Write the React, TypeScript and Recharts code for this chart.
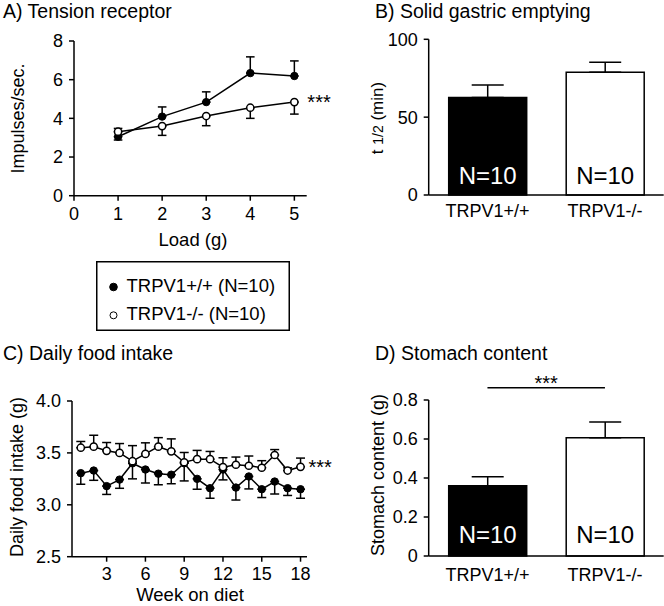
import React from 'react';
import {
  LineChart, Line, BarChart, Bar, XAxis, YAxis, ErrorBar, Cell, LabelList,
  ReferenceLine, ReferenceDot, Legend,
} from 'recharts';

const FONT = '"Liberation Sans", Arial, Helvetica, sans-serif';

// ---------- Panel A: Tension receptor ----------
const loads = [1, 2, 3, 4, 5];
const tensionWT = [3.05, 4.09, 4.84, 6.34, 6.19];
const tensionWTErr = [0.43, 0.5, 0.53, 0.84, 0.78];
const tensionKO = [3.31, 3.6, 4.12, 4.55, 4.84];
const tensionKOErr = [0.43, 0.48, 0.5, 0.55, 0.62];
const loadTicks = [0, 1, 2, 3, 4, 5];
const impulseTicks = [0, 2, 4, 6, 8];

// ---------- Panel B: Solid gastric emptying ----------
const groups = ['TRPV1+/+', 'TRPV1-/-'];
const groupN = ['N=10', 'N=10'];
const emptyingHalf = [62.7, 78.8];
const emptyingErr = [7.9, 6.4];
const emptyingTicks = [0, 50, 100];

// ---------- Panel C: Daily food intake ----------
const weeks = [1, 2, 3, 4, 5, 6, 7, 8, 9, 10, 11, 12, 13, 14, 15, 16, 17, 18];
const intakeWT = [3.305, 3.33, 3.18, 3.243, 3.40, 3.34, 3.30, 3.29, 3.40, 3.25, 3.16, 3.34, 3.166, 3.273, 3.15, 3.224, 3.16, 3.15];
const intakeWTErr = [0.107, 0.094, 0.08, 0.084, 0.15, 0.13, 0.107, 0.087, 0.17, 0.1, 0.097, 0.1, 0.12, 0.12, 0.08, 0.12, 0.07, 0.087];
const intakeKO = [3.55, 3.56, 3.52, 3.50, 3.42, 3.49, 3.56, 3.515, 3.41, 3.44, 3.44, 3.363, 3.386, 3.376, 3.357, 3.48, 3.33, 3.366];
const intakeKOErr = [0.06, 0.11, 0.08, 0.09, 0.15, 0.107, 0.087, 0.12, 0.094, 0.084, 0.074, 0.09, 0.074, 0.094, 0.068, 0.052, 0.026, 0.084];
const weekTicks = [3, 6, 9, 12, 15, 18];
const intakeTicks = [2.5, 3.0, 3.5, 4.0];

// ---------- Panel D: Stomach content ----------
const stomach = [0.36, 0.607];
const stomachErr = [0.047, 0.08];
const stomachTicks = [0, 0.2, 0.4, 0.6, 0.8];
const stomachSigLevel = 0.863;

const seriesNames = ['TRPV1+/+ (N=10)', 'TRPV1-/- (N=10)'];
const titles = ['A) Tension receptor', 'B) Solid gastric emptying', 'C) Daily food intake', 'D) Stomach content'];
const significance = '***';

// ---------- derived tables ----------
const tensionData = loads.map((l, i) => ({
  load: l,
  wt: tensionWT[i],
  wtErr: [0, tensionWTErr[i]],
  ko: tensionKO[i],
  koErr: [tensionKOErr[i], 0],
}));

const intakeData = weeks.map((w, i) => ({
  week: w,
  wt: intakeWT[i],
  wtErr: [intakeWTErr[i], 0],
  ko: intakeKO[i],
  koErr: [0, intakeKOErr[i]],
}));

const emptyingData = groups.map((g, i) => ({ group: g, value: emptyingHalf[i], err: [0, emptyingErr[i]], n: groupN[i] }));
const stomachData = groups.map((g, i) => ({ group: g, value: stomach[i], err: [0, stomachErr[i]], n: groupN[i] }));

const axisStyle = { stroke: '#000', strokeWidth: 1.5 };
const tickStyle = { fill: '#000', fontSize: 18, fontFamily: FONT };

const yLabel = (text: React.ReactNode, cx: number, cy: number, fontSize = 18) => () => (
  <text
    x={cx}
    y={cy}
    dy="0.35em"
    transform={`rotate(-90 ${cx} ${cy})`}
    textAnchor="middle"
    fontSize={fontSize}
    fontFamily={FONT}
    fill="#000"
  >
    {text}
  </text>
);

const xLabel = (text: string, cx: number, baseline: number) => () => (
  <text x={cx} y={baseline} textAnchor="middle" fontSize={18.5} fontFamily={FONT} fill="#000">
    {text}
  </text>
);

const dotFilled = { r: 3.7, fill: '#000', stroke: '#000', strokeWidth: 1 };
const dotOpen = { r: 3.6, fill: '#fff', stroke: '#000', strokeWidth: 1.5 };

const renderLegend = (props: any) => {
  const payload = props.payload || [];
  return (
    <svg width={194} height={70} style={{ display: 'block' }}>
      <rect x={0.75} y={0.75} width={192.5} height={68.5} fill="#fff" stroke="#000" strokeWidth={1.5} />
      {payload.map((entry: any, i: number) => (
        <g key={i}>
          <circle
            cx={17.5}
            cy={26 + i * 28.3}
            r={i === 0 ? 3.8 : 3.5}
            fill={i === 0 ? '#000' : '#fff'}
            stroke="#000"
            strokeWidth={1}
          />
          <text x={30.5} y={31 + i * 28.3} fontSize={18.5} fontFamily={FONT} fill="#000">
            {entry.value}
          </text>
        </g>
      ))}
    </svg>
  );
};

const nLabel = (gap: number) => (props: any) => {
  const { x, y, width, height, value, index } = props;
  return (
    <text
      x={x + width / 2}
      y={y + height - gap}
      textAnchor="middle"
      fontSize={24}
      fontFamily={FONT}
      fill={index === 0 ? '#fff' : '#000'}
    >
      {value}
    </text>
  );
};

const pos = (left: number, top: number): React.CSSProperties => ({ position: 'absolute', left, top });

export default function App() {
  return (
    <div style={{ position: 'absolute', left: 0, top: 0, width: 664, height: 606, background: '#fff', overflow: 'hidden' }}>
      <svg width={664} height={606} style={{ position: 'absolute', left: 0, top: 0 }}>
        <text x={3} y={18} fontSize={19.5} fontFamily={FONT} fill="#000">{titles[0]}</text>
        <text x={375} y={18} fontSize={19.5} fontFamily={FONT} fill="#000">{titles[1]}</text>
        <text x={3} y={360} fontSize={19.5} fontFamily={FONT} fill="#000">{titles[2]}</text>
        <text x={375} y={360} fontSize={19.5} fontFamily={FONT} fill="#000">{titles[3]}</text>
      </svg>

      {/* Panel A */}
      <div style={pos(0, 0)}>
        <LineChart width={340} height={335} data={tensionData} margin={{ top: 41, right: 33.3, bottom: 109.3, left: 0 }}>
          <XAxis
            dataKey="load"
            type="number"
            domain={[0, 5.28]}
            ticks={loadTicks}
            interval={0}
            height={30}
            axisLine={axisStyle}
            tickLine={axisStyle}
            tickSize={5}
            tickMargin={7}
            tick={tickStyle}
            label={xLabel('Load (g)', 193, 246)}
          />
          <YAxis
            type="number"
            domain={[0, 8]}
            ticks={impulseTicks}
            interval={0}
            width={74}
            axisLine={axisStyle}
            tickLine={axisStyle}
            tickSize={5}
            tickMargin={6}
            tick={tickStyle}
            label={yLabel('Impulses/sec.', 18, 118.4)}
          />
          <Line
            dataKey="wt"
            name={seriesNames[0]}
            type="linear"
            stroke="#000"
            strokeWidth={1.5}
            dot={dotFilled}
            activeDot={false}
            isAnimationActive={false}
          >
            <ErrorBar dataKey="wtErr" direction="y" width={4.3} stroke="#000" strokeWidth={1.5} />
          </Line>
          <Line
            dataKey="ko"
            name={seriesNames[1]}
            type="linear"
            stroke="#000"
            strokeWidth={1.5}
            dot={dotOpen}
            activeDot={false}
            isAnimationActive={false}
          >
            <ErrorBar dataKey="koErr" direction="y" width={4.3} stroke="#000" strokeWidth={1.5} />
          </Line>
          <ReferenceDot
            x={loads[4]}
            y={tensionKO[4]}
            r={1}
            fill="none"
            stroke="none"
            label={{ value: significance, position: 'right', offset: 12, fill: '#000', fontSize: 20, fontFamily: FONT }}
          />
          <Legend
            layout="vertical"
            align="center"
            verticalAlign="middle"
            content={renderLegend}
            wrapperStyle={{ left: 96, top: 261, width: 194, height: 70 }}
          />
        </LineChart>
      </div>

      {/* Panel B */}
      <div style={pos(332, 0)}>
        <BarChart width={332} height={255} data={emptyingData} margin={{ top: 39.3, right: 0.3, bottom: 30, left: 0 }}>
          <XAxis
            dataKey="group"
            height={30}
            axisLine={axisStyle}
            tickLine={false}
            tickSize={5}
            tickMargin={4}
            tick={tickStyle}
            interval={0}
          />
          <YAxis
            type="number"
            domain={[0, 100]}
            ticks={emptyingTicks}
            interval={0}
            width={96.7}
            axisLine={axisStyle}
            tickLine={axisStyle}
            tickSize={5}
            tickMargin={6}
            tick={tickStyle}
            label={yLabel(
              <>
                <tspan>t </tspan>
                <tspan fontSize={14}>1/2</tspan>
                <tspan> (min)</tspan>
              </>,
              45.5,
              118,
              17,
            )}
          />
          <Bar dataKey="value" barSize={78} stroke="#000" strokeWidth={1.5} isAnimationActive={false}>
            {emptyingData.map((d, i) => (
              <Cell key={d.group} fill={i === 0 ? '#000' : '#fff'} />
            ))}
            <ErrorBar dataKey="err" direction="y" width={16} stroke="#000" strokeWidth={1.5} />
            <LabelList dataKey="n" content={nLabel(11)} />
          </Bar>
        </BarChart>
      </div>

      {/* Panel C */}
      <div style={pos(0, 380)}>
        <LineChart width={340} height={226} data={intakeData} margin={{ top: 21, right: 33, bottom: 19.3, left: 0 }}>
          <XAxis
            dataKey="week"
            type="number"
            domain={[0.32, 18.5]}
            ticks={weekTicks}
            interval={0}
            height={30}
            axisLine={axisStyle}
            tickLine={axisStyle}
            tickSize={5}
            tickMargin={6}
            tick={tickStyle}
            label={xLabel('Week on diet', 190, 221)}
          />
          <YAxis
            type="number"
            domain={[2.5, 4.0]}
            ticks={intakeTicks}
            interval={0}
            width={72}
            axisLine={axisStyle}
            tickLine={axisStyle}
            tickSize={5}
            tickMargin={6}
            tick={tickStyle}
            tickFormatter={(v: number) => v.toFixed(1)}
            label={yLabel('Daily food intake (g)', 17, 97)}
          />
          <Line
            dataKey="wt"
            name={seriesNames[0]}
            type="linear"
            stroke="#000"
            strokeWidth={1.5}
            dot={dotFilled}
            activeDot={false}
            isAnimationActive={false}
          >
            <ErrorBar dataKey="wtErr" direction="y" width={4.5} stroke="#000" strokeWidth={1.5} />
          </Line>
          <Line
            dataKey="ko"
            name={seriesNames[1]}
            type="linear"
            stroke="#000"
            strokeWidth={1.5}
            dot={dotOpen}
            activeDot={false}
            isAnimationActive={false}
          >
            <ErrorBar dataKey="koErr" direction="y" width={4.5} stroke="#000" strokeWidth={1.5} />
          </Line>
          <ReferenceDot
            x={weeks[17]}
            y={intakeKO[17]}
            r={1}
            fill="none"
            stroke="none"
            label={{ value: significance, position: 'right', offset: 7, fill: '#000', fontSize: 20, fontFamily: FONT }}
          />
        </LineChart>
      </div>

      {/* Panel D */}
      <div style={pos(332, 370)}>
        <BarChart width={332} height={236} data={stomachData} margin={{ top: 30, right: 0.3, bottom: 20, left: 0 }}>
          <XAxis
            dataKey="group"
            height={30}
            axisLine={axisStyle}
            tickLine={false}
            tickSize={5}
            tickMargin={7}
            tick={tickStyle}
            interval={0}
          />
          <YAxis
            type="number"
            domain={[0, 0.8]}
            ticks={stomachTicks}
            interval={0}
            width={96.7}
            axisLine={axisStyle}
            tickLine={axisStyle}
            tickSize={5}
            tickMargin={6}
            tick={tickStyle}
            label={yLabel('Stomach content (g)', 45.5, 105)}
          />
          <Bar dataKey="value" barSize={78} stroke="#000" strokeWidth={1.5} isAnimationActive={false}>
            {stomachData.map((d, i) => (
              <Cell key={d.group} fill={i === 0 ? '#000' : '#fff'} />
            ))}
            <ErrorBar dataKey="err" direction="y" width={16} stroke="#000" strokeWidth={1.5} />
            <LabelList dataKey="n" content={nLabel(13)} />
          </Bar>
          <ReferenceLine
            segment={[
              { x: groups[0], y: stomachSigLevel },
              { x: groups[1], y: stomachSigLevel },
            ]}
            ifOverflow="visible"
            stroke="#000"
            strokeWidth={1.5}
            label={{ value: significance, position: 'top', offset: -2, fill: '#000', fontSize: 20, fontFamily: FONT }}
          />
        </BarChart>
      </div>
    </div>
  );
}
